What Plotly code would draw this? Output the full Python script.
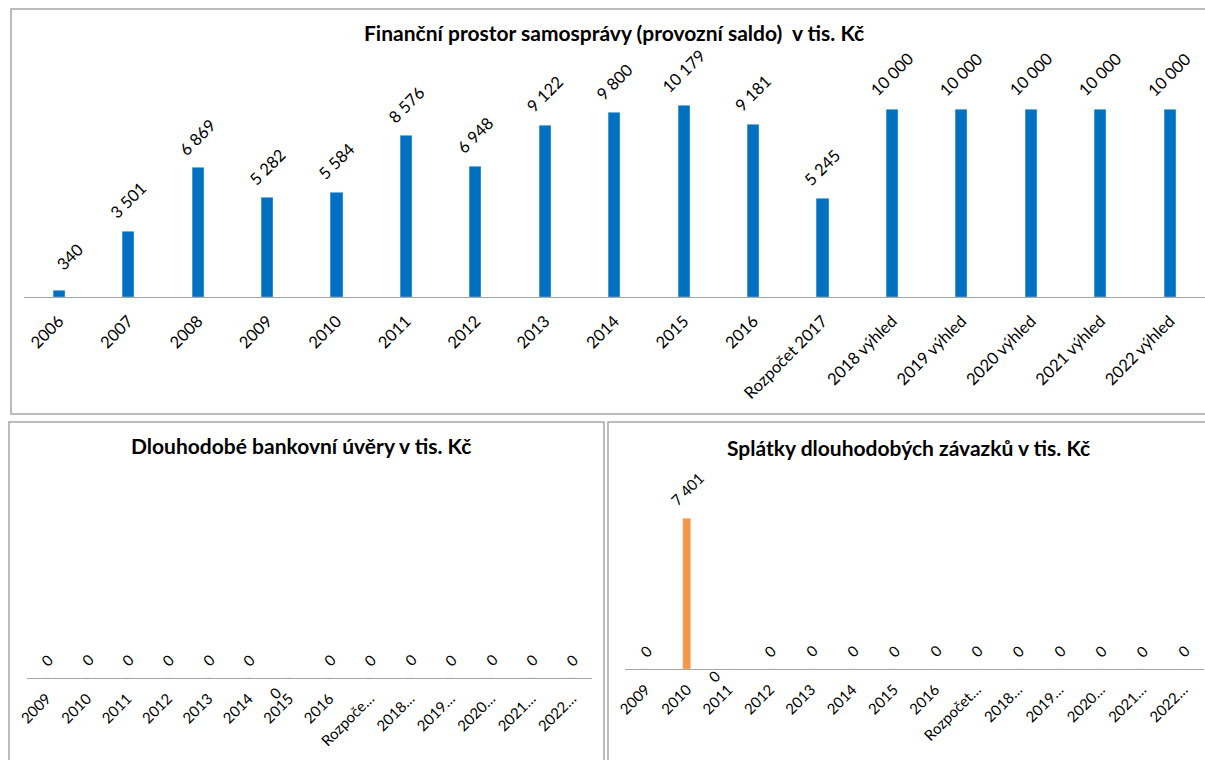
import plotly.graph_objects as go

# ---- data -------------------------------------------------------------
saldo_categories = ["2006", "2007", "2008", "2009", "2010", "2011", "2012",
                    "2013", "2014", "2015", "2016", "Rozpočet 2017",
                    "2018 výhled", "2019 výhled", "2020 výhled",
                    "2021 výhled", "2022 výhled"]
saldo_values = [340, 3501, 6869, 5282, 5584, 8576, 6948, 9122, 9800,
                10179, 9181, 5245, 10000, 10000, 10000, 10000, 10000]

debt_categories = ["2009", "2010", "2011", "2012", "2013", "2014", "2015",
                   "2016", "Rozpočet 2017", "2018 výhled", "2019 výhled",
                   "2020 výhled", "2021 výhled", "2022 výhled"]
loan_ticks = ["2009", "2010", "2011", "2012", "2013", "2014", "2015", "2016",
              "Rozpoče…", "2018…", "2019…", "2020…", "2021…", "2022…"]
loan_values = [0, 0, 0, 0, 0, 0, 0, 0, 0, 0, 0, 0, 0, 0]

repay_ticks = ["2009", "2010", "2011", "2012", "2013", "2014", "2015", "2016",
               "Rozpočet…", "2018…", "2019…", "2020…", "2021…", "2022…"]
repay_values = [0, 7401, 0, 0, 0, 0, 0, 0, 0, 0, 0, 0, 0, 0]

titles = ["Finanční prostor samosprávy (provozní saldo)  v tis. Kč",
          "Dlouhodobé bankovní úvěry v tis. Kč",
          "Splátky dlouhodobých závazků v tis. Kč"]

# ---- styling ----------------------------------------------------------
W, H = 1205, 760
FONT = "Lato, 'Open Sans', sans-serif"
BLUE = "#0070C0"
ORANGE = "#F79646"
GREY = "#A6A6A6"


def px(x):
    return x / W


def py(y):
    return 1 - y / H


def fmt(v):
    return f"{v:,}".replace(",", "\u00a0")


fig = go.Figure()

fig.add_trace(go.Bar(x=saldo_categories, y=saldo_values, marker_color=BLUE,
                     width=0.175, xaxis="x", yaxis="y", hoverinfo="x+y"))
fig.add_trace(go.Bar(x=debt_categories, y=loan_values, marker_color=BLUE,
                     width=0.19, xaxis="x2", yaxis="y2", hoverinfo="x+y"))
fig.add_trace(go.Bar(x=debt_categories, y=repay_values, marker_color=ORANGE,
                     width=0.19, xaxis="x3", yaxis="y3", hoverinfo="x+y"))

annotations = []


def value_labels(cats, vals, xref, yref, size, below=(), below_shift=-3,
                 nudge=None):
    # category axes take annotation positions as serial numbers
    nudge = nudge or {}
    for i, (c, v) in enumerate(zip(cats, vals)):
        a = dict(x=i, y=v, xref=xref, yref=yref, text=fmt(v), showarrow=False,
                 textangle=-45, font=dict(family=FONT, size=size, color="#000"),
                 xanchor="center")
        if c in below:
            a.update(yanchor="top", yshift=below_shift, xshift=-14)
        else:
            a.update(yanchor="bottom", yshift=6)
        if c in nudge:
            dx, dy = nudge[c]
            a["xshift"] = a.get("xshift", 0) + dx
            a["yshift"] = a.get("yshift", 0) + dy
        annotations.append(a)


value_labels(saldo_categories, saldo_values, "x", "y", 16.5,
             nudge={"2006": (11, 7)})
value_labels(debt_categories, loan_values, "x2", "y2", 15, below={"2015"},
             below_shift=-3)
value_labels(debt_categories, repay_values, "x3", "y3", 15, below={"2011"},
             below_shift=5)

# panel titles
for text, cx, cy in [(titles[0], 614, 33), (titles[1], 301, 445),
                     (titles[2], 908, 447)]:
    annotations.append(dict(text=f"<b>{text}</b>", x=px(cx), y=py(cy),
                            xref="paper", yref="paper", showarrow=False,
                            xanchor="center", yanchor="middle",
                            font=dict(family=FONT, size=21, color="#000")))

xcommon = dict(type="category", showline=True, linecolor=GREY, linewidth=1,
               showgrid=False, zeroline=False, ticks="", tickangle=-45,
               fixedrange=True, automargin=False)
ycommon = dict(visible=False, showgrid=False, zeroline=False, fixedrange=True,
               automargin=False)

fig.update_layout(
    width=W, height=H, margin=dict(l=0, r=0, t=0, b=0, autoexpand=False),
    paper_bgcolor="white", plot_bgcolor="white", showlegend=False,
    bargap=0,
    xaxis=dict(xcommon, domain=[px(24.3), px(1204.7)], anchor="y",
               range=[-0.5, len(saldo_categories) - 0.5],
               tickfont=dict(family=FONT, size=16.5, color="#000"),
               ticklabelstandoff=7),
    yaxis=dict(ycommon, domain=[py(297), py(71.4)], range=[0, 12000],
               anchor="x"),
    xaxis2=dict(xcommon, domain=[px(26.5), px(592)], anchor="y2",
                range=[-0.5, len(debt_categories) - 0.5],
                tickvals=debt_categories, ticktext=loan_ticks,
                tickfont=dict(family=FONT, size=15, color="#000"),
                ticklabelstandoff=5),
    yaxis2=dict(ycommon, domain=[py(678), py(480)], range=[0, 1],
                anchor="x2"),
    xaxis3=dict(xcommon, domain=[px(625), px(1204)], anchor="y3",
                range=[-0.5, len(debt_categories) - 0.5],
                tickvals=debt_categories, ticktext=repay_ticks,
                tickfont=dict(family=FONT, size=15, color="#000"),
                ticklabelstandoff=5),
    yaxis3=dict(ycommon, domain=[py(669), py(485.4)], range=[0, 9000],
                anchor="x3"),
    annotations=annotations,
    shapes=[
        dict(type="rect", xref="paper", yref="paper", x0=px(11), x1=px(1215),
             y0=py(9), y1=py(414), line=dict(color=GREY, width=1.5)),
        dict(type="rect", xref="paper", yref="paper", x0=px(9), x1=px(604),
             y0=py(422), y1=py(775), line=dict(color=GREY, width=1.5)),
        dict(type="rect", xref="paper", yref="paper", x0=px(608), x1=px(1215),
             y0=py(422), y1=py(775), line=dict(color=GREY, width=1.5)),
    ],
)

fig.write_html("out.html")
